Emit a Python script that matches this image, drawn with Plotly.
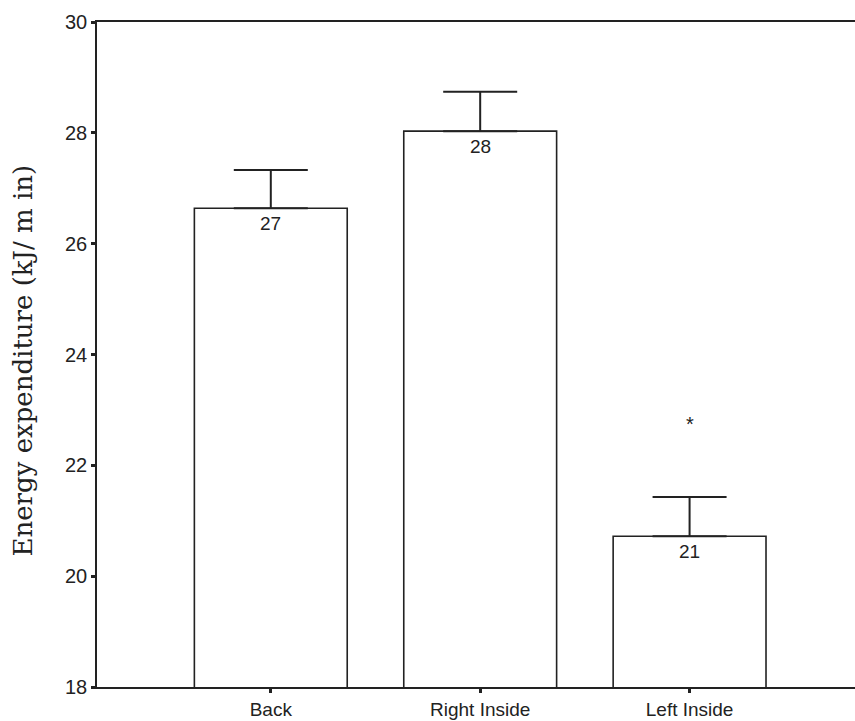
import plotly.graph_objects as go

categories = ["Back", "Right Inside", "Left Inside"]
means = [26.64, 28.03, 20.72]
errors = [0.69, 0.71, 0.71]
bar_labels = ["27", "28", "21"]
significance = ["", "", "*"]
sig_y = [None, None, 22.74]
y_ticks = [18, 20, 22, 24, 26, 28, 30]

xpos = list(range(len(categories)))

fig = go.Figure()
fig.add_trace(go.Bar(
    x=xpos, y=means, width=0.73,
    marker=dict(color="white", line=dict(color="#222", width=1.6)),
    error_y=dict(type="data", symmetric=False, array=errors,
                 arrayminus=[0] * len(errors), color="#222",
                 thickness=2, width=37),
    showlegend=False,
))

for i, (m, lab) in enumerate(zip(means, bar_labels)):
    fig.add_annotation(x=xpos[i], y=m, text=lab, showarrow=False,
                       yanchor="top", yshift=-3,
                       font=dict(family="Liberation Sans, Arial", size=19, color="#222"))

for i, (s, sy) in enumerate(zip(significance, sig_y)):
    if s:
        fig.add_annotation(x=xpos[i], y=sy, text=s, showarrow=False,
                           font=dict(family="Liberation Sans, Arial", size=20, color="#222"))

fig.add_annotation(xref="paper", yref="paper", x=0, y=0.5, xshift=-75, yshift=-6,
                   xanchor="center", yanchor="middle",
                   text="Energy expenditure (kJ/ m in)", textangle=-90,
                   showarrow=False,
                   font=dict(family="DejaVu Serif", size=26, color="#222"))

fig.update_layout(
    width=855, height=721,
    margin=dict(l=97, r=0, t=22, b=34),
    plot_bgcolor="white", paper_bgcolor="white",
    xaxis=dict(range=[-0.83, 2.79], tickvals=xpos, ticktext=categories,
               showline=True, linecolor="#222", linewidth=1.6, mirror=True,
               ticks="outside", ticklen=4, tickwidth=3, tickcolor="#222",
               showgrid=False, zeroline=False,
               tickfont=dict(family="Liberation Sans, Arial", size=19, color="#222")),
    yaxis=dict(range=[18, 30], tickvals=y_ticks,
               showline=True, linecolor="#222", linewidth=1.6,
               ticks="outside", ticklen=4, tickwidth=3, tickcolor="#222",
               showgrid=False, zeroline=False,
               tickfont=dict(family="Liberation Sans, Arial", size=20, color="#222")),
)

fig.write_html("out.html")
